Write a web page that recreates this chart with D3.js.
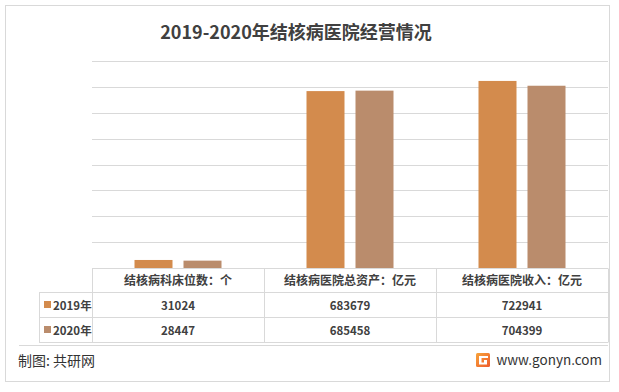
<!DOCTYPE html>
<html><head><meta charset="utf-8">
<script src="https://cdn.jsdelivr.net/npm/d3@7"></script>
<style>
body{margin:0;background:#fff;}
svg{display:block;}
text{font-family:"Noto Sans CJK SC","Noto Sans",sans-serif;}
</style></head>
<body><svg id="c" width="619" height="392"></svg>
<script>
const title = "2019-2020年结核病医院经营情况";
const categories = ["结核病科床位数：个", "结核病医院总资产：亿元", "结核病医院收入：亿元"];
const seriesNames = ["2019年", "2020年"];
const values2019 = [31024, 683679, 722941];
const values2020 = [28447, 685458, 704399];
const yTicks = [0, 100000, 200000, 300000, 400000, 500000, 600000, 700000, 800000];
const colors = ["#D38B4D", "#BA8C6C"];
const source = "制图: 共研网";
const site = "www.gonyn.com";

const svg = d3.select("#c");
const textColor = "#404040";
const lineColor = "#d9d9d9";

// frame
svg.append("rect").attr("x",5.5).attr("y",5.5).attr("width",604).attr("height",376)
  .attr("fill","#fff").attr("stroke",lineColor).attr("stroke-width",1);

// title
svg.append("text").attr("x",296).attr("y",39).attr("text-anchor","middle")
  .attr("font-size",18).attr("font-weight","bold").attr("fill",textColor).text(title);

const x0 = d3.scaleBand().domain(categories).range([92,608]).paddingInner(0).paddingOuter(0);
const y = d3.scaleLinear().domain([0,800000]).range([268,61]);

// gridlines
svg.append("g").selectAll("line").data(yTicks.slice(1)).join("line")
  .attr("x1",92).attr("x2",608)
  .attr("y1",d=>Math.round(y(d))+0.5).attr("y2",d=>Math.round(y(d))+0.5)
  .attr("stroke",lineColor).attr("stroke-width",1);

// bars
const series = [values2019, values2020];
const x1 = d3.scaleBand().domain([0,1]).range([0,87]).paddingInner(0.2245).paddingOuter(0);
const offset = (x0.bandwidth()-87)/2;
categories.forEach((c,i)=>{
  series.forEach((vals,s)=>{
    svg.append("rect")
      .attr("x", x0(c)+offset+x1(s))
      .attr("width", x1.bandwidth())
      .attr("y", y(vals[i]))
      .attr("height", y(0)-y(vals[i]))
      .attr("fill", colors[s]);
  });
});

// table
const tg = svg.append("g").attr("stroke",lineColor).attr("stroke-width",1).attr("fill","none");
tg.append("line").attr("x1",92).attr("x2",608).attr("y1",268.5).attr("y2",268.5);
tg.append("line").attr("x1",39).attr("x2",608).attr("y1",292.5).attr("y2",292.5);
tg.append("line").attr("x1",39).attr("x2",608).attr("y1",317.5).attr("y2",317.5);
tg.append("line").attr("x1",39).attr("x2",608).attr("y1",342.5).attr("y2",342.5);
tg.append("line").attr("x1",39.5).attr("x2",39.5).attr("y1",292.5).attr("y2",342.5);
[92,264,436,608].forEach(xv=>{
  tg.append("line").attr("x1",xv+0.5).attr("x2",xv+0.5).attr("y1",268.5).attr("y2",342.5);
});

// header text
categories.forEach(c=>{
  svg.append("text").attr("x",x0(c)+x0.bandwidth()/2).attr("y",284.5)
    .attr("text-anchor","middle").attr("font-size",12).attr("font-weight","bold")
    .attr("fill",textColor).text(c);
});
// rows
series.forEach((vals,s)=>{
  const cy = s===0 ? 305 : 330;
  svg.append("rect").attr("x",44).attr("y",cy-4).attr("width",7).attr("height",7).attr("fill",colors[s]);
  svg.append("text").attr("x",53).attr("y",cy+4.5).attr("font-size",11.5).attr("font-weight","bold")
    .attr("fill",textColor).text(seriesNames[s]);
  categories.forEach((c,i)=>{
    svg.append("text").attr("x",x0(c)+x0.bandwidth()/2).attr("y",cy+4.5)
      .attr("text-anchor","middle").attr("font-size",11.5).attr("font-weight","bold")
      .attr("fill",textColor).text(vals[i]);
  });
});

// footer separator
svg.append("line").attr("x1",19).attr("x2",608).attr("y1",345.5).attr("y2",345.5)
  .attr("stroke",lineColor).attr("stroke-width",1);
svg.append("text").attr("x",18).attr("y",366).attr("font-size",14).attr("fill","#333").text(source);

// logo
const lg = svg.append("g").attr("transform","translate(476,353)");
const grad = svg.append("defs").append("linearGradient").attr("id","lgr").attr("x1","0").attr("y1","0").attr("x2","1").attr("y2","1");
grad.append("stop").attr("offset","0").attr("stop-color","#F7A43A");
grad.append("stop").attr("offset","1").attr("stop-color","#EF5A2B");
lg.append("rect").attr("width",14).attr("height",14).attr("rx",1.5).attr("fill","url(#lgr)");
lg.append("rect").attr("x",3).attr("y",3).attr("width",9).attr("height",2).attr("fill","#fff");
lg.append("rect").attr("x",3).attr("y",3).attr("width",2.5).attr("height",8).attr("fill","#fff");
lg.append("rect").attr("x",3).attr("y",9.5).attr("width",8).attr("height",2).attr("fill","#fff");
lg.append("rect").attr("x",8).attr("y",7).attr("width",3).attr("height",4).attr("fill","#fff");
svg.append("text").attr("x",602).attr("y",365).attr("text-anchor","end")
  .attr("font-family","'Liberation Sans',Arial,sans-serif").attr("font-size",13.5).attr("fill","#333").text(site);
</script></body></html>
